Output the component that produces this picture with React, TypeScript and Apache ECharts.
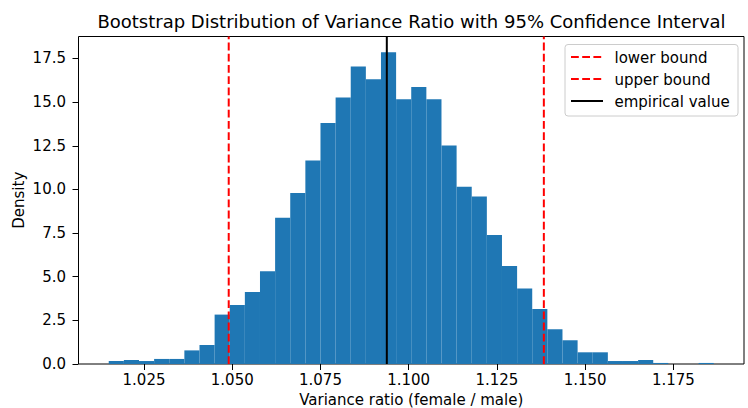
import { useEffect, useRef } from "react";
import * as echarts from "echarts";

// Histogram of bootstrap variance ratios (density per bin)
const binStart = 1.015;
const binWidth = 0.004286;
const densities = [
  0.17, 0.23, 0.17, 0.29, 0.29, 0.78, 1.09, 2.83, 3.38, 4.13,
  5.31, 8.38, 9.8, 11.65, 13.81, 15.26, 17.04, 16.31, 17.86, 15.17,
  15.87, 15.17, 12.51, 10.16, 9.59, 7.39, 5.62, 4.32, 3.15, 1.99,
  1.36, 0.67, 0.67, 0.17, 0.17, 0.23, 0.06, 0, 0, 0.06,
];

const xTicks = [1.025, 1.05, 1.075, 1.1, 1.125, 1.15, 1.175];
const yTicks = [0, 2.5, 5, 7.5, 10, 12.5, 15, 17.5];
const xRange = [1.00643, 1.19502];
const yRange = [0, 18.76];

const lowerBound = 1.049;
const upperBound = 1.1383;
const empiricalValue = 1.0938;

const legendLabels = ["lower bound", "upper bound", "empirical value"];

const FONT = "DejaVu Sans";
const BAR_COLOR = "#1f77b4";
const DASH = [7.8, 3.4];

export default function App() {
  const ref = useRef<HTMLDivElement>(null);

  useEffect(() => {
    if (!ref.current) return;
    const chart = echarts.init(ref.current, undefined, { renderer: "svg" });

    const bins = densities.map((d, i) => [
      binStart + i * binWidth,
      binStart + (i + 1) * binWidth,
      d,
    ]);

    const vline = (name: string, x: number, color: string, dashed: boolean) => ({
      name,
      type: "line",
      data: [
        [x, yRange[0]],
        [x, yRange[1]],
      ],
      symbol: "none",
      lineStyle: { color, width: 2, type: dashed ? DASH : "solid" },
      z: 5,
      silent: true,
    });

    const legendX = 565;
    const legendTop = 44.5;
    const rowYs = [57, 79, 101];
    const legendItems = [
      { label: legendLabels[0], color: "#ff0000", dashed: true },
      { label: legendLabels[1], color: "#ff0000", dashed: true },
      { label: legendLabels[2], color: "#000000", dashed: false },
    ];

    const legendGraphics: any[] = [
      {
        type: "rect",
        shape: { x: legendX, y: legendTop, width: 173, height: 71.5, r: 3 },
        style: { fill: "rgba(255,255,255,0.8)", stroke: "#cccccc", lineWidth: 1 },
        z: 20,
      },
    ];
    legendItems.forEach((it, i) => {
      legendGraphics.push({
        type: "line",
        shape: { x1: legendX + 6, y1: rowYs[i], x2: legendX + 38, y2: rowYs[i] },
        style: {
          stroke: it.color,
          lineWidth: 2,
          lineDash: it.dashed ? DASH : null,
        },
        z: 21,
      });
      legendGraphics.push({
        type: "text",
        x: legendX + 49.5,
        y: rowYs[i] + 0.5,
        style: {
          text: it.label,
          font: `15px '${FONT}'`,
          fill: "#000",
          textAlign: "left",
          textVerticalAlign: "middle",
        },
        z: 21,
      });
    });

    chart.setOption({
      animation: false,
      grid: {
        left: 78.5,
        right: 4,
        top: 36.5,
        bottom: 44,
        outerBoundsMode: "none",
        containLabel: false,
        show: true,
        borderColor: "#000",
        borderWidth: 1,
        backgroundColor: "transparent",
      },
      xAxis: {
        type: "value",
        min: xRange[0],
        max: xRange[1],
        name: "Variance ratio (female / male)",
        nameLocation: "middle",
        nameGap: 28,
        nameMoveOverlap: false,
        nameTextStyle: { fontFamily: FONT, fontSize: 15, color: "#000" },
        axisLine: { show: false },
        axisTick: {
          show: true,
          length: 6,
          lineStyle: { color: "#000", width: 1 },
          customValues: xTicks,
        },
        axisLabel: {
          customValues: xTicks,
          formatter: (v: number) => v.toFixed(3),
          fontFamily: FONT,
          fontSize: 15,
          color: "#000",
          margin: 8.5,
        },
        splitLine: { show: false },
      },
      yAxis: {
        type: "value",
        min: yRange[0],
        max: yRange[1],
        name: "Density",
        nameLocation: "middle",
        nameGap: 52,
        nameMoveOverlap: false,
        nameTextStyle: { fontFamily: FONT, fontSize: 15, color: "#000" },
        axisLine: { show: false },
        axisTick: {
          show: true,
          length: 6,
          lineStyle: { color: "#000", width: 1 },
          customValues: yTicks,
        },
        axisLabel: {
          customValues: yTicks,
          formatter: (v: number) => v.toFixed(1),
          fontFamily: FONT,
          fontSize: 15,
          color: "#000",
          margin: 12.5,
        },
        splitLine: { show: false },
      },
      series: [
        {
          name: "bootstrap",
          type: "custom",
          data: bins,
          renderItem: (_params: any, api: any) => {
            const p0 = api.coord([api.value(0), api.value(2)]);
            const p1 = api.coord([api.value(1), 0]);
            return {
              type: "rect",
              shape: { x: p0[0], y: p0[1], width: p1[0] - p0[0], height: p1[1] - p0[1] },
              style: { fill: BAR_COLOR },
            };
          },
          z: 2,
          silent: true,
        },
        vline(legendLabels[0], lowerBound, "#ff0000", true),
        vline(legendLabels[1], upperBound, "#ff0000", true),
        vline(legendLabels[2], empiricalValue, "#000000", false),
      ],
      graphic: [
        {
          type: "text",
          x: 411.5,
          y: 21,
          style: {
            text: "Bootstrap Distribution of Variance Ratio with 95% Confidence Interval",
            font: `18px '${FONT}'`,
            fill: "#000",
            textAlign: "center",
            textVerticalAlign: "middle",
          },
        },
        ...legendGraphics,
      ],
    });

    return () => chart.dispose();
  }, []);

  return <div ref={ref} style={{ width: 748, height: 408, position: "absolute", left: 0, top: 0 }} />;
}
